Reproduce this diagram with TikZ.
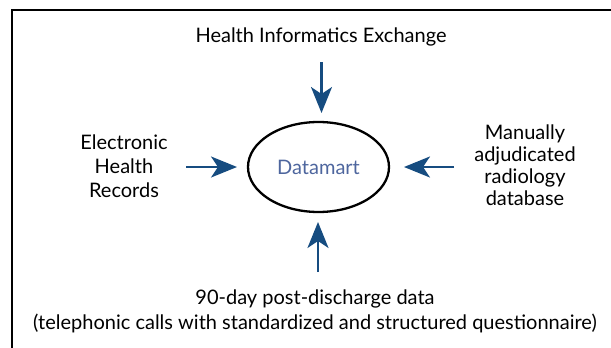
\documentclass[tikz,border=0pt]{standalone}
\usepackage{fontspec}
\setmainfont{Lato}
\usetikzlibrary{arrows.meta,shapes.geometric}
\definecolor{arrowblue}{RGB}{22,76,128}
\definecolor{dmblue}{RGB}{78,102,158}
\tikzset{
  src/.style={align=center,font=\fontsize{20}{24}\selectfont,inner sep=0pt},
  feed/.style={draw=arrowblue,line width=2.4pt,-{Stealth[length=26pt,width=21pt,inset=7pt]}},
}
\begin{document}
\begin{tikzpicture}[x=1pt,y=-1pt]
\useasboundingbox (0,0) rectangle (611,348);
\begin{scope}
\clip (0,0) rectangle (611,348);
\draw[line width=2pt] (12,360) -- (12,10) -- (620,10);
\end{scope}
\node[draw,ellipse,line width=2.3pt,minimum width=141pt,minimum height=90pt,text=dmblue,font=\fontsize{20}{24}\selectfont] (dm) at (318.5,167) {Datamart};
\node[src] (hie) at (321,37) {Health Informatics Exchange};
\node[src] (ehr) at (124,166) {Electronic\\Health\\Records};
\node[src,font=\fontsize{20}{22}\selectfont] (rad) at (525,165) {Manually\\adjudicated\\radiology\\database};
\node[src,font=\fontsize{20}{25}\selectfont] (pd) at (315,311) {90-day post-discharge data\\(telephonic calls with standardized and structured questionnaire)};
\coordinate (t0) at (321.5,62);
\coordinate (t1) at (321.5,113);
\coordinate (l0) at (186,167);
\coordinate (l1) at (237,167);
\coordinate (r0) at (454,167);
\coordinate (r1) at (404,167);
\coordinate (b0) at (318,272);
\coordinate (b1) at (318,222);
\draw[feed] (t0) -- (t1);
\draw[feed] (l0) -- (l1);
\draw[feed] (r0) -- (r1);
\draw[feed] (b0) -- (b1);
\end{tikzpicture}
\end{document}
